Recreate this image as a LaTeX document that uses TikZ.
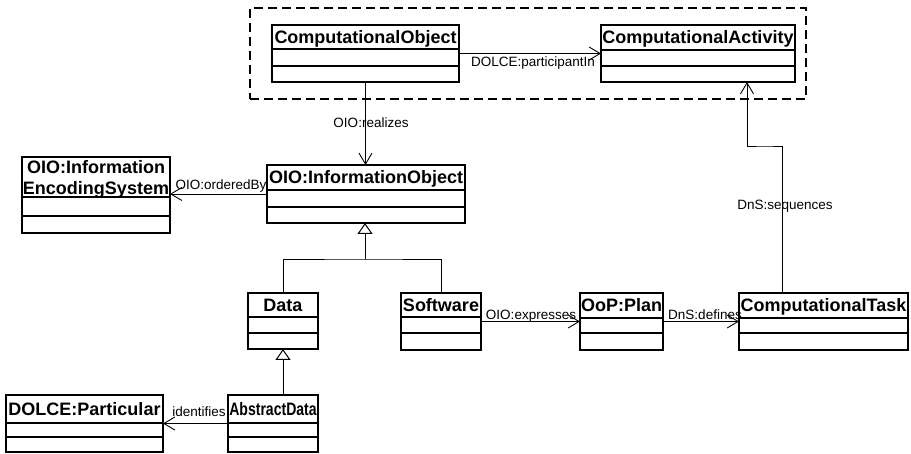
\documentclass[tikz,border=0pt]{standalone}
\usepackage{fontspec}
\usepackage{graphicx}
\setmainfont{Liberation Sans}
\usetikzlibrary{arrows.meta}
\tikzset{
  classbox/.style={draw, line width=1.3pt, inner sep=0pt, outer sep=0pt},
  classline/.style={line width=1.1pt},
  classtitle/.style={font=\bfseries\fontsize{18}{21.5}\selectfont, inner sep=0pt, anchor=base, align=center},
  lbl/.style={font=\fontsize{13.5}{16}\selectfont, inner sep=0pt, anchor=base},
  assoc/.style={line width=0.9pt, -{Straight Barb[length=11pt,width=13pt,line width=0.9pt]}},
  gen/.style={line width=0.9pt, -{Triangle[open,length=11pt,width=15pt,line width=1pt]}},
  plainline/.style={line width=0.9pt},
  groupbox/.style={draw, dash pattern=on 9pt off 5pt, line width=1.2pt, inner sep=0pt},
}
% name, x1, y1, x2, y2, header line y, middle line y, title
\newcommand\umlclass[8]{%
  \node[classbox, minimum width={#4-#2}, minimum height={#5-#3}] (#1) at ({(#2+#4)/2},{(#3+#5)/2}) {};
  \node[classtitle] (#1-title) at ({(#2+#4)/2},{(#3+#6)/2+6.4}) {#8};
  \draw[classline] (#2,#6) -- (#4,#6);
  \draw[classline] (#2,#7) -- (#4,#7);
}
\begin{document}
\begin{tikzpicture}[x=1pt,y=-1pt]
\useasboundingbox (0,0) rectangle (911,454);
\fill[white] (0,0) rectangle (911,454);
\node[groupbox, minimum width=556, minimum height=91] (grp) at (528,53.5) {};
\umlclass{CO}{272}{25}{459}{82}{49}{66}{ComputationalObject}
\umlclass{CA}{601}{25}{795}{82}{50}{66}{ComputationalActivity}
\umlclass{IO}{267}{165}{465}{223}{190}{207}{OIO:InformationObject}
\umlclass{IES}{22}{157}{170}{233}{197}{216}{}
\node[classtitle] (IES-t) at (96,195) {OIO:Information\\[-0.5pt]EncodingSystem};
\umlclass{Data}{248}{293}{318}{349}{317}{333}{Data}
\umlclass{SW}{401}{293}{481}{350}{317}{333}{Software}
\umlclass{Plan}{580}{293}{663}{350}{318}{333}{OoP:Plan}
\umlclass{CT}{739}{293}{908}{350}{318}{333}{ComputationalTask}
\umlclass{DP}{6}{395}{163}{452}{423}{437}{DOLCE:Particular}
\umlclass{AD}{228}{395}{318}{452}{423}{437}{\scalebox{0.78}[1]{AbstractData}}

\draw[assoc] (CO.east) -- (CA.west);
\draw[assoc] (CO.south) -- (CO.south |- IO.north);
\draw[assoc] (IO.west) -- (IO.west -| IES.east);
\coordinate (junc) at (365,259);
\draw[gen] (junc) -- (junc |- IO.south);
\draw[plainline] (Data.north) |- (junc) -| (SW.north);
\draw[assoc] (SW.east) -- (SW.east -| Plan.west);
\draw[assoc] (Plan.east) -- (Plan.east -| CT.west);
\coordinate (seqbend) at (765,146);
\draw[assoc] ([xshift=43pt]CT.north west) |- (seqbend) -| ([xshift=146pt]CA.south west);
\draw[assoc] (AD.west) -- (AD.west -| DP.east);
\draw[gen] (Data.south |- AD.north) -- (Data.south);

\node[lbl] (l1) at (533,67) {DOLCE:participantIn};
\node[lbl] (l2) at (371,128) {OIO:realizes};
\node[lbl] (l3) at (221,190) {OIO:orderedBy};
\node[lbl] (l4) at (531,320) {OIO:expresses};
\node[lbl] (l5) at (705,320) {DnS:defines};
\node[lbl] (l6) at (785,210) {DnS:sequences};
\node[lbl] (l7) at (199,417) {identifies};
\end{tikzpicture}
\end{document}
